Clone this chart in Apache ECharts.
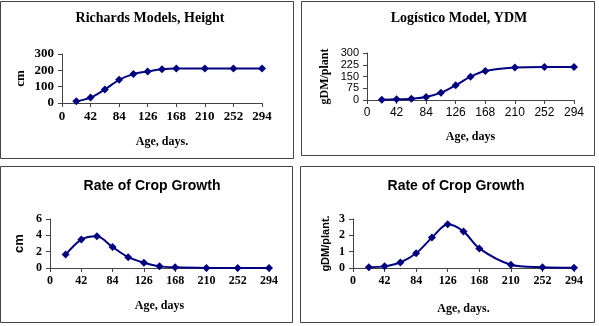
<!DOCTYPE html>
<html><head><meta charset="utf-8">
<script src="https://cdn.jsdelivr.net/npm/echarts@6/dist/echarts.min.js"></script>
<style>html,body{margin:0;padding:0;background:#fff}#c{width:599px;height:326px}</style>
</head><body><div id="c"></div>
<script>
const ages = [21, 42, 63, 84, 105, 126, 147, 168, 210, 252, 294];
const heightCm = [10, 33, 83, 142, 177, 193, 207, 211, 211, 211, 211];
const ydm = [2, 4, 8, 19, 47, 94, 149, 185, 207, 211, 211];
const rateCm = [1.64, 3.48, 3.88, 2.56, 1.32, 0.64, 0.2, 0.08, 0.01, 0, 0];
const rateGdm = [0.04, 0.1, 0.34, 0.9, 1.86, 2.68, 2.24, 1.2, 0.2, 0.04, 0.01];
const titles = ['Richards Models, Height', 'Logístico Model, YDM', 'Rate of Crop Growth', 'Rate of Crop Growth'];
const yNames = ['cm', 'gDM/plant', 'cm', 'gDM/plant.'];
const xNames = ['Age, days.', 'Age, days', 'Age, days', 'Age, days.'];
const yMax = [300, 300, 6, 3];
const yStep = [100, 75, 2, 1];
const xMax = 294, xStep = 42;

const serif = 'Liberation Serif', sans = 'Liberation Sans';
const navy = '#000080', axisCol = '#444';
const grids = [
  {left: 62, top: 54, width: 200, height: 49},
  {left: 367, top: 53, width: 207, height: 47},
  {left: 50, top: 219, width: 219, height: 49},
  {left: 353, top: 219, width: 221, height: 49}
];
const tickFont = [
  {fontFamily: serif, fontWeight: 'bold', fontSize: 13},
  {fontFamily: sans, fontWeight: 'normal', fontSize: 12},
  {fontFamily: serif, fontWeight: 'bold', fontSize: 12},
  {fontFamily: serif, fontWeight: 'bold', fontSize: 12}
];
const yTickFont = [
  {fontFamily: serif, fontWeight: 'bold', fontSize: 13},
  {fontFamily: sans, fontWeight: 'normal', fontSize: 11},
  {fontFamily: serif, fontWeight: 'bold', fontSize: 12},
  {fontFamily: serif, fontWeight: 'bold', fontSize: 12}
];
const yNameFont = [
  {fontFamily: serif, fontWeight: 'bold', fontSize: 13},
  {fontFamily: serif, fontWeight: 'bold', fontSize: 12},
  {fontFamily: sans, fontWeight: 'bold', fontSize: 13},
  {fontFamily: sans, fontWeight: 'bold', fontSize: 11}
];
const titleDefs = [
  {left: 145, top: 6, font: {fontFamily: serif, fontWeight: 'bold', fontSize: 14}},
  {left: 454, top: 6, font: {fontFamily: serif, fontWeight: 'bold', fontSize: 14}},
  {left: 147, top: 174, font: {fontFamily: sans, fontWeight: 'bold', fontSize: 14}},
  {left: 451, top: 174, font: {fontFamily: sans, fontWeight: 'bold', fontSize: 14}}
];
const xNameGap = [33, 31, 32, 35];
const yNameGap = [35, 36, 24, 22];
const seriesData = [heightCm, ydm, rateCm, rateGdm];

const axisLine = {lineStyle: {color: axisCol, width: 1}};
const axisTick = {show: true, inside: false, length: 4, lineStyle: {color: axisCol}};

const option = {
  animation: false,
  backgroundColor: '#fff',
  title: titles.map((t, i) => ({
    text: t, left: titleDefs[i].left, top: titleDefs[i].top, textAlign: 'center',
    textStyle: Object.assign({color: '#000'}, titleDefs[i].font)
  })),
  grid: grids,
  xAxis: grids.map((g, i) => ({
    type: 'value', gridIndex: i, min: 0, max: xMax, interval: xStep,
    name: xNames[i], nameLocation: 'middle', nameGap: xNameGap[i],
    nameTextStyle: {fontFamily: serif, fontWeight: 'bold', fontSize: 12, color: '#000'},
    axisLine: axisLine, axisTick: axisTick, splitLine: {show: false},
    axisLabel: Object.assign({color: '#000', margin: 7, hideOverlap: false, showMinLabel: true, showMaxLabel: true}, tickFont[i])
  })),
  yAxis: grids.map((g, i) => ({
    type: 'value', gridIndex: i, min: 0, max: yMax[i], interval: yStep[i],
    name: yNames[i], nameLocation: 'middle', nameRotate: 90, nameGap: yNameGap[i],
    nameTextStyle: Object.assign({color: '#000'}, yNameFont[i]),
    axisLine: {show: true, lineStyle: {color: axisCol, width: 1}}, axisTick: axisTick, splitLine: {show: false},
    axisLabel: Object.assign({color: '#000', margin: 8, hideOverlap: false, showMinLabel: true, showMaxLabel: true}, yTickFont[i])
  })),
  series: seriesData.map((d, i) => ({
    type: 'line', xAxisIndex: i, yAxisIndex: i, smooth: 0.3,
    data: ages.map((a, k) => [a, d[k]]),
    symbol: 'diamond', symbolSize: 8,
    lineStyle: {color: navy, width: 2}, itemStyle: {color: navy}
  })),
  graphic: [
    {type: 'rect', shape: {x: 0.5, y: 1.5, width: 293, height: 157}, style: {fill: 'none', stroke: '#444', lineWidth: 1}},
    {type: 'rect', shape: {x: 301.5, y: 1.5, width: 293, height: 154}, style: {fill: 'none', stroke: '#444', lineWidth: 1}},
    {type: 'rect', shape: {x: 0.5, y: 166.5, width: 292, height: 156}, style: {fill: 'none', stroke: '#444', lineWidth: 1}},
    {type: 'rect', shape: {x: 300.5, y: 166.5, width: 294, height: 156}, style: {fill: 'none', stroke: '#444', lineWidth: 1}}
  ]
};
const chart = echarts.init(document.getElementById('c'), null, {renderer: 'canvas'});
chart.setOption(option);
</script></body></html>
